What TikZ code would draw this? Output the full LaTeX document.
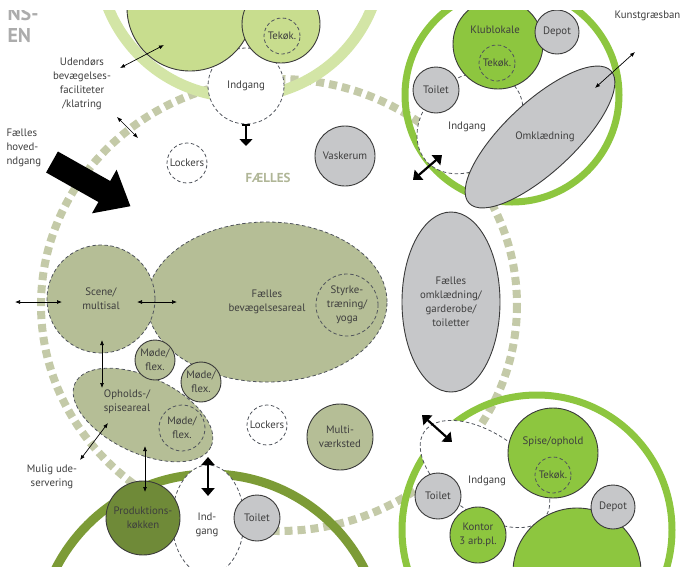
\documentclass[tikz,border=0pt]{standalone}
\usepackage{fontspec}
\setmainfont{PT Sans}
\usetikzlibrary{arrows.meta,shapes.geometric}

\definecolor{prik}{HTML}{C4CAA8}
\definecolor{blegroen}{HTML}{D3E5A6}
\definecolor{lysgroen}{HTML}{C8DD8E}
\definecolor{groen}{HTML}{8DC63F}
\definecolor{moerkgroen}{HTML}{7C9B36}
\definecolor{koekken}{HTML}{6F8A38}
\definecolor{oliven}{HTML}{B5BE96}
\definecolor{graa}{HTML}{C6C7C9}
\definecolor{streg}{HTML}{3A3A3A}
\definecolor{stregstip}{HTML}{50545C}
\definecolor{txtgraa}{HTML}{3E3E3E}

\tikzset{
	tekst/.style={text=txtgraa, font=\fontsize{10.8}{14}\selectfont, align=center},
	kreds/.style={tekst, circle, draw=streg, line width=0.9pt, inner sep=0pt},
	stiplet/.style={draw=stregstip, line width=0.8pt, dash pattern=on 3.5pt off 2.5pt},
	pil/.style={{Latex[length=5pt,width=4pt]}-{Latex[length=5pt,width=4pt]}, line width=0.7pt},
	tykpil/.style={{Triangle[length=8pt,width=13pt]}-{Triangle[length=8pt,width=13pt]}, line width=2.2pt},
}

\begin{document}
\begin{tikzpicture}[x=1pt,y=-1pt]
	\useasboundingbox (0,0) rectangle (686,566);
	\clip (0,10) rectangle (686,566);

	%stiplet ring
	\draw[prik, line width=8pt, dash pattern=on 8pt off 5pt] (279,305) ellipse (238 and 226);

	%groenne ringe
	\draw[blegroen, line width=11pt] (240,-45) circle (142);
	\draw[groen, line width=7pt] (512,95) circle (107);
	\draw[moerkgroen, line width=9pt] (210,647) circle (173);
	\draw[groen, line width=7pt] (537,530) circle (135);

	%overskrift
	\node[anchor=base west, font=\bfseries\fontsize{20}{20}\selectfont, text=gray!65] (ns) at (4,20) {NS-};
	\node[anchor=base west, font=\bfseries\fontsize{20}{20}\selectfont, text=gray!65] (en) at (4,42) {EN};

	%oppe til venstre
	\node[kreds, stiplet, fill=white, minimum size=76pt] (indgang1) at (246,86) {Indgang};
	\node[kreds, fill=lysgroen, minimum size=126pt] (ude) at (190,8) {};
	\node[kreds, fill=lysgroen, minimum size=78pt] (tekoekrum) at (281,24) {};
	\node[kreds, stiplet, minimum size=36pt] (tekoek1) at (282,36) {Tekøk.};
	\coordinate (ind1pil) at (246,146);
	\draw[{Bar[width=8pt]}-{Triangle[width=13pt,length=7pt]}, line width=1.4pt] (indgang1.south) -- (ind1pil);

	\node[tekst] (udendoers) at (82,84) {Udendørs\\bevægelses-\\faciliteter\\/klatring};
	\node[tekst, align=left, anchor=west] (hoved) at (3,148) {Fælles\\hoved-\\ndgang};

	%hovedindgang
	\fill[black] (46.1,172.5) -- (98.4,202) -- (92,213.3) -- (130.4,206.2)
		-- (116.6,169.7) -- (110.2,181) -- (57.9,151.5) -- cycle;

	\node[kreds, stiplet, fill=white, minimum size=40pt] (lockers1) at (187,163) {Lockers};
	\node[kreds, fill=graa, minimum size=60pt] (vask) at (345,156) {Vaskerum};
	\node[font=\bfseries\fontsize{13}{13}\selectfont, text=prik!90!black] (faellestxt) at (268,178) {FÆLLES};

	%klubhus
	\draw[stiplet, fill=white, rotate around={40:(470,123)}] (470,123) ellipse (58 and 45);
	\node[kreds, fill=groen, minimum size=90pt] (klub) at (498,44) {};
	\node[tekst] (klubtxt) at (495,30) {Klublokale};
	\node[kreds, stiplet, minimum size=36pt] (tekoek2) at (497,63) {Tekøk.};
	\node[kreds, fill=graa, minimum size=44pt] (depot1) at (557,32) {Depot};
	\node[kreds, fill=graa, minimum size=46pt] (toilet1) at (436,90) {Toilet};
	\node[tekst] (indgang2) at (467,127) {Indgang};
	\draw[streg, line width=0.9pt, fill=graa, rotate around={43:(540,137)}] (540,137) ellipse (97 and 35);
	\node[tekst] (omkl) at (545,137) {Omklædning};
	\node[tekst, anchor=west] (kunst) at (611,16) {Kunstgræsban};

	%midten
	\node[kreds, stiplet, ellipse, fill=oliven, minimum width=240pt, minimum height=160pt] (bevaeg) at (267,302) {Fælles\\bevægelsesareal};
	\node[kreds, stiplet, fill=oliven, minimum size=62pt] (styrke) at (347,305) {Styrke-\\træning/\\yoga};
	\node[kreds, stiplet, fill=oliven, minimum size=108pt] (scene) at (101,299) {Scene/\\multisal};
	\draw[stiplet, fill=oliven, rotate around={-25:(143,415)}] (143,415) ellipse (75 and 38);
	\node[tekst] (ophold) at (127,402) {Opholds-/\\spiseareal};
	\node[kreds, stiplet, minimum size=46pt] (moede3) at (182,428) {Møde/\\flex.};
	\node[kreds, fill=oliven, minimum size=40pt] (moede1) at (155,360) {Møde/\\flex.};
	\node[kreds, fill=oliven, minimum size=40pt] (moede2) at (201,382) {Møde/\\flex.};
	\node[tekst] (mulig) at (52,477) {Mulig ude-\\servering};

	\node[kreds, fill=graa, ellipse, minimum width=98pt, minimum height=180pt] (omkl2) at (451,302) {Fælles\\omklædning/\\garderobe/\\toiletter};
	\node[kreds, stiplet, fill=white, minimum size=40pt] (lockers2) at (267,425) {Lockers};
	\node[kreds, fill=oliven, minimum size=66pt] (multi) at (340,437) {Multi-\\værksted};

	%nederst til venstre
	\node[kreds, stiplet, ellipse, fill=white, minimum width=72pt, minimum height=110pt] (indgang3) at (208,520) {};
	\node[tekst] (indgang3txt) at (207,525) {Ind-\\gang};
	\node[kreds, fill=koekken, minimum size=74pt] (prod) at (143,518) {Produktions-\\køkken};
	\node[kreds, fill=graa, minimum size=46pt] (toilet2) at (257,518) {Toilet};

	%nederst til hoejre
	\draw[stiplet, fill=white, rotate around={-35:(485,474)}] (485,474) ellipse (74 and 40);
	\node[tekst] (indgang4) at (487,481) {Indgang};
	\node[kreds, fill=groen, minimum size=90pt] (spise) at (553,453) {};
	\node[tekst] (spisetxt) at (553,442) {Spise/ophold};
	\node[kreds, stiplet, minimum size=36pt] (tekoek3) at (553,475) {Tekøk.};
	\node[kreds, fill=groen, minimum size=128pt] (klub2) at (577,572) {};
	\node[kreds, fill=graa, minimum size=44pt] (depot2) at (613,507) {Depot};
	\node[kreds, fill=graa, minimum size=46pt] (toilet3) at (438,496) {Toilet};
	\node[kreds, fill=groen, minimum size=56pt] (kontor) at (478,535) {Kontor\\3 arb.pl.};

	%pile
	\coordinate (p1a) at (120,68);  \coordinate (p1b) at (164,45);
	\coordinate (p2a) at (117,117); \coordinate (p2b) at (138,138);
	\coordinate (p3a) at (595,88);  \coordinate (p3b) at (635,52);
	\coordinate (p4a) at (15,302);  \coordinate (p4b) at (62,302);
	\coordinate (p5a) at (137,302); \coordinate (p5b) at (177,302);
	\coordinate (p6a) at (102,340); \coordinate (p6b) at (102,388);
	\coordinate (p7a) at (108,423); \coordinate (p7b) at (80,460);
	\coordinate (p8a) at (145,446); \coordinate (p8b) at (145,492);
	\foreach \a/\b in {p1a/p1b,p2a/p2b,p3a/p3b,p4a/p4b,p5a/p5b,p6a/p6b,p7a/p7b,p8a/p8b}
		\draw[pil] (\a) -- (\b);

	\coordinate (t1a) at (413,180); \coordinate (t1b) at (442,155);
	\coordinate (t2a) at (208,457); \coordinate (t2b) at (208,496);
	\coordinate (t3a) at (422,415); \coordinate (t3b) at (452,442);
	\foreach \a/\b in {t1a/t1b,t2a/t2b,t3a/t3b}
		\draw[tykpil] (\a) -- (\b);
\end{tikzpicture}
\end{document}
